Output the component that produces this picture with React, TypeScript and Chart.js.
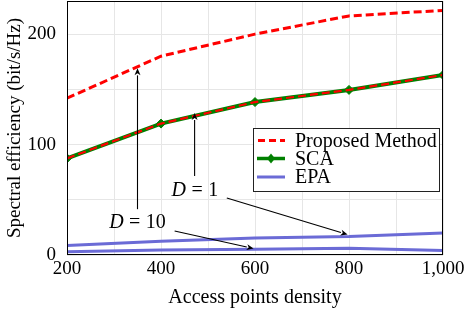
import React, { useEffect, useRef } from "react";
import { Chart, registerables } from "chart.js";
Chart.register(...registerables);

// ---- data ----
const accessPoints = [200, 400, 600, 800, 1000];
const proposedD10 = [142, 180, 200, 216.5, 221.5];
const proposedD1 = [87.5, 119, 138.5, 149.5, 163];
const scaD1 = [87.5, 119, 138.5, 149.5, 163];
const epaD1 = [8.5, 12.5, 15.5, 16.8, 20];
const epaD10 = [3, 4.5, 5.2, 6, 4];

const xTickValues = [200, 400, 600, 800, 1000];
const yTickValues = [0, 100, 200];

const legendLabels = ["Proposed Method", "SCA", "EPA"];

// annotations (data units)
const annText = ["10", "1"];
const annX = [350, 472];
const annY = [29, 58];
const arrowFromX = [350, 429, 471.5, 540];
const arrowFromY = [41.5, 21.7, 71.5, 51.6];
const arrowToX = [350, 597, 471.5, 797];
const arrowToY = [169, 5.8, 128.5, 18.5];

const RED = "#ff0000";
const GREEN = "#008000";
const BLUE = "#6b6bd6";
const FONT = "'Liberation Serif', 'Times New Roman', serif";

function toPoints(ys: number[]) {
  return accessPoints.map((x, i) => ({ x, y: ys[i] }));
}

const overlayPlugin = {
  id: "overlay",
  afterDraw(chart: any) {
    const { ctx, chartArea: ca, scales } = chart;
    const xs = scales.x;
    const ys = scales.y;
    ctx.save();
    // axis box
    ctx.strokeStyle = "#000";
    ctx.lineWidth = 1;
    ctx.strokeRect(ca.left + 0.5, ca.top + 0.5, ca.right - ca.left - 1, ca.bottom - ca.top - 1);

    // arrows
    ctx.strokeStyle = "#000";
    ctx.fillStyle = "#000";
    ctx.lineWidth = 1.1;
    for (let i = 0; i < arrowFromX.length; i++) {
      const x1 = xs.getPixelForValue(arrowFromX[i]);
      const y1 = ys.getPixelForValue(arrowFromY[i]);
      const x2 = xs.getPixelForValue(arrowToX[i]);
      const y2 = ys.getPixelForValue(arrowToY[i]);
      const ang = Math.atan2(y2 - y1, x2 - x1);
      const len = 7;
      const hw = 3;
      const bx = x2 - len * Math.cos(ang);
      const by = y2 - len * Math.sin(ang);
      ctx.beginPath();
      ctx.moveTo(x1, y1);
      ctx.lineTo(bx, by);
      ctx.stroke();
      ctx.beginPath();
      ctx.moveTo(x2, y2);
      ctx.lineTo(bx + hw * Math.sin(ang), by - hw * Math.cos(ang));
      ctx.lineTo(bx + 2 * Math.cos(ang), by + 2 * Math.sin(ang));
      ctx.lineTo(bx - hw * Math.sin(ang), by + hw * Math.cos(ang));
      ctx.closePath();
      ctx.fill();
    }

    // annotation labels "D = n"
    ctx.textBaseline = "middle";
    ctx.textAlign = "left";
    for (let i = 0; i < annText.length; i++) {
      const cx = xs.getPixelForValue(annX[i]);
      const cy = ys.getPixelForValue(annY[i]);
      ctx.font = `italic 20px ${FONT}`;
      const wD = ctx.measureText("D").width;
      ctx.font = `20px ${FONT}`;
      const wEq = ctx.measureText("=").width;
      const wN = ctx.measureText(annText[i]).width;
      const gap = 5.5;
      const total = wD + gap + wEq + gap + wN;
      let px = cx - total / 2;
      ctx.font = `italic 20px ${FONT}`;
      ctx.fillText("D", px, cy);
      px += wD + gap;
      ctx.font = `20px ${FONT}`;
      ctx.fillText("=", px, cy);
      px += wEq + gap;
      ctx.fillText(annText[i], px, cy);
    }

    // legend
    const bw = 187;
    const bh = 64;
    const bx0 = ca.right - 3 - bw;
    const by0 = ca.top + 127;
    ctx.fillStyle = "#fff";
    ctx.fillRect(bx0, by0, bw, bh);
    ctx.strokeStyle = "#222";
    ctx.lineWidth = 1;
    ctx.strokeRect(bx0 + 0.5, by0 + 0.5, bw - 1, bh - 1);
    const rowY = [by0 + 12.5, by0 + 30.5, by0 + 49];
    const lx1 = bx0 + 4;
    const lx2 = bx0 + 32;
    // Proposed
    ctx.strokeStyle = RED;
    ctx.lineWidth = 3;
    ctx.setLineDash([7, 4]);
    ctx.beginPath();
    ctx.moveTo(lx1 + 1, rowY[0]);
    ctx.lineTo(lx2, rowY[0]);
    ctx.stroke();
    ctx.setLineDash([]);
    // SCA
    ctx.strokeStyle = GREEN;
    ctx.lineWidth = 3.5;
    ctx.beginPath();
    ctx.moveTo(lx1, rowY[1]);
    ctx.lineTo(lx2, rowY[1]);
    ctx.stroke();
    const mx = (lx1 + lx2) / 2;
    ctx.fillStyle = GREEN;
    ctx.beginPath();
    ctx.moveTo(mx, rowY[1] - 5);
    ctx.lineTo(mx + 4, rowY[1]);
    ctx.lineTo(mx, rowY[1] + 5);
    ctx.lineTo(mx - 4, rowY[1]);
    ctx.closePath();
    ctx.fill();
    // EPA
    ctx.strokeStyle = BLUE;
    ctx.lineWidth = 3;
    ctx.beginPath();
    ctx.moveTo(lx1, rowY[2]);
    ctx.lineTo(lx2, rowY[2]);
    ctx.stroke();
    // texts
    ctx.fillStyle = "#000";
    ctx.font = `20px ${FONT}`;
    ctx.textBaseline = "middle";
    for (let i = 0; i < legendLabels.length; i++) {
      ctx.fillText(legendLabels[i], bx0 + 42, rowY[i] + 1);
    }
    ctx.restore();
  },
};

export default function App() {
  const ref = useRef<HTMLCanvasElement | null>(null);
  useEffect(() => {
    if (!ref.current) return;
    const chart = new Chart(ref.current, {
      type: "line",
      data: {
        datasets: [
          {
            label: "Proposed Method (D=10)",
            data: toPoints(proposedD10),
            borderColor: RED,
            borderWidth: 3,
            borderDash: [8, 4],
            pointRadius: 0,
            tension: 0,
            order: 1,
          },
          {
            label: "Proposed Method (D=1)",
            data: toPoints(proposedD1),
            borderColor: RED,
            borderWidth: 2.2,
            borderDash: [8, 4],
            pointRadius: 0,
            tension: 0,
            order: 0,
          },
          {
            label: "SCA (D=1)",
            data: toPoints(scaD1),
            borderColor: GREEN,
            backgroundColor: GREEN,
            borderWidth: 4,
            pointStyle: "rectRot",
            pointRadius: 4.5,
            pointBorderWidth: 1,
            tension: 0,
            order: 2,
          },
          {
            label: "EPA (D=1)",
            data: toPoints(epaD1),
            borderColor: BLUE,
            borderWidth: 3,
            pointRadius: 0,
            tension: 0,
            order: 3,
          },
          {
            label: "EPA (D=10)",
            data: toPoints(epaD10),
            borderColor: BLUE,
            borderWidth: 3,
            pointRadius: 0,
            tension: 0,
            order: 3,
          },
        ],
      },
      options: {
        animation: false,
        responsive: false,
        devicePixelRatio: 1,
        layout: { autoPadding: false, padding: { left: 0, right: 23, top: 1, bottom: 0 } },
        plugins: { legend: { display: false }, tooltip: { enabled: false } },
        scales: {
          x: {
            type: "linear",
            min: 200,
            max: 1000,
            afterFit: (s: any) => {
              s.height = 55;
              s.paddingLeft = 0;
              s.paddingRight = 0;
              s.paddingTop = 0;
              s.paddingBottom = 0;
            },
            ticks: {
              stepSize: 100,
              autoSkip: false,
              maxRotation: 0,
              padding: 3,
              color: "#000",
              font: { family: FONT, size: 19 },
              callback: (v: any) =>
                xTickValues.includes(Number(v)) ? Number(v).toLocaleString("en-US") : "",
            },
            grid: { color: "#e6e6e6", drawTicks: false },
            border: { display: false },
            title: {
              display: true,
              text: "Access points density",
              color: "#000",
              font: { family: FONT, size: 20 },
              padding: { top: 0, bottom: 0 },
            },
          },
          y: {
            min: 0,
            max: 230,
            afterFit: (s: any) => {
              s.width = 67;
              s.paddingTop = 0;
              s.paddingBottom = 0;
              s.paddingLeft = 0;
              s.paddingRight = 0;
            },
            ticks: {
              stepSize: 50,
              autoSkip: false,
              padding: 11,
              color: "#000",
              font: { family: FONT, size: 19 },
              callback: (v: any) => (yTickValues.includes(Number(v)) ? String(v) : ""),
            },
            grid: { color: "#e6e6e6", drawTicks: false },
            border: { display: false },
            title: {
              display: true,
              text: "Spectral efficiency (bit/s/Hz)",
              color: "#000",
              font: { family: FONT, size: 19 },
              padding: { top: 4, bottom: 4 },
            },
          },
        },
      },
      plugins: [overlayPlugin],
    } as any);
    return () => chart.destroy();
  }, []);
  return (
    <div style={{ position: "fixed", left: 0, top: 0, width: 466, height: 310, background: "#fff" }}>
      <canvas ref={ref} width={466} height={310} style={{ display: "block" }} />
    </div>
  );
}
